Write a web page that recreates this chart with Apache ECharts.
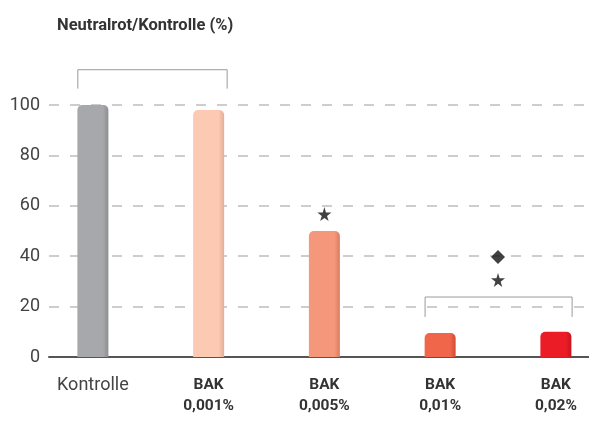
<!DOCTYPE html>
<html>
<head>
<meta charset="utf-8">
<script src="https://cdn.jsdelivr.net/npm/echarts@6/dist/echarts.min.js"></script>
<style>
  html, body { margin: 0; padding: 0; background: #fff; }
  #chart { width: 589px; height: 421px; }
</style>
</head>
<body>
<div id="chart"></div>
<script>
// Neutral red uptake relative to control, per BAK concentration
const categories = ['Kontrolle', 'BAK|0,001%', 'BAK|0,005%', 'BAK|0,01%', 'BAK|0,02%'];
const values = [100, 98, 50, 9.5, 10];
const barColors = ['#a7a8ab', '#fcc9b2', '#f4977a', '#f0664a', '#ec1c26'];
const barEdges = ['#8d8e91', '#e3ae98', '#d97c61', '#cf4d33', '#c4161d'];
const yTicks = [0, 20, 40, 60, 80, 100];

// Significance annotations (category index units, value units)
const bracketTop = [[-0.13, 106.5], [-0.13, 114], [1.16, 114], [1.16, 106.5]];
const bracketLow = [[2.87, 15.9], [2.87, 23.8], [4.14, 23.8], [4.14, 15.9]];
const starMarks = [[2, 56.7], [3.5, 30.6]];
const diamondMarks = [[3.5, 39.7]];

const FONT = "'Roboto', 'Liberation Sans', sans-serif";
const STAR = 'path://M50,0 L61,35 L98,35 L68,57 L79,91 L50,70 L21,91 L32,57 L2,35 L39,35 Z';

const chart = echarts.init(document.getElementById('chart'), null, { renderer: 'canvas' });

chart.setOption({
  animation: false,
  title: {
    text: 'Neutralrot/Kontrolle (%)',
    left: 52, top: 12,
    textStyle: { fontFamily: FONT, fontWeight: 'bold', fontSize: 16.5, color: '#333' }
  },
  grid: [
    { left: 49, right: 0, top: 105, bottom: 64 },
    { left: 35, right: 0, top: 105, bottom: 64 }
  ],
  xAxis: [
    {
      gridIndex: 0, type: 'category', data: [''],
      axisLine: { lineStyle: { color: '#555', width: 2 } },
      axisTick: { show: false }, axisLabel: { show: false }
    },
    {
      // bars and labels share this axis: category i sits at value i
      gridIndex: 1, type: 'value', min: -0.5, max: 4.286, interval: 0.5,
      axisLine: { show: false }, axisTick: { show: false }, splitLine: { show: false },
      axisLabel: {
        margin: 18,
        showMinLabel: false, showMaxLabel: false,
        formatter: function (v) {
          if (Math.abs(v - Math.round(v)) > 1e-6) return '';
          const name = categories[Math.round(v)];
          if (!name) return '';
          if (name.indexOf('|') < 0) return '{n|' + name + '}';
          const p = name.split('|');
          return '{b|' + p[0] + '}\n{b|' + p[1] + '}';
        },
        rich: {
          n: { fontFamily: FONT, fontSize: 18, color: '#444', lineHeight: 21 },
          b: { fontFamily: FONT, fontSize: 15.5, fontWeight: 'bold', color: '#333', lineHeight: 21 }
        }
      }
    }
  ],
  yAxis: [
    {
      gridIndex: 0, type: 'value', min: 0, max: 100, interval: 20,
      axisLine: { show: false }, axisTick: { show: false },
      axisLabel: { margin: 9, fontFamily: FONT, fontSize: 18, color: '#444',
        formatter: function (v) { return yTicks.indexOf(v) >= 0 ? String(v) : ''; } },
      splitLine: { lineStyle: { color: '#bdbdbd', width: 1.5, type: [10, 11] } }
    },
    {
      gridIndex: 1, type: 'value', min: 0, max: 100, show: false
    }
  ],
  series: [
    {
      type: 'bar', xAxisIndex: 1, yAxisIndex: 1, barWidth: 31,
      data: values.map(function (v, i) {
        return {
          value: [i, v],
          itemStyle: {
            borderRadius: [5, 5, 0, 0],
            color: new echarts.graphic.LinearGradient(0, 0, 1, 0, [
              { offset: 0, color: barColors[i] },
              { offset: 0.82, color: barColors[i] },
              { offset: 1, color: barEdges[i] }
            ])
          }
        };
      }),
      z: 3
    },
    {
      type: 'line', xAxisIndex: 1, yAxisIndex: 1, data: bracketTop, clip: false,
      symbol: 'none', lineStyle: { color: '#9a9a9a', width: 1 }, z: 4
    },
    {
      type: 'line', xAxisIndex: 1, yAxisIndex: 1, data: bracketLow, clip: false,
      symbol: 'none', lineStyle: { color: '#9a9a9a', width: 1 }, z: 4
    },
    {
      type: 'scatter', xAxisIndex: 1, yAxisIndex: 1, data: starMarks,
      symbol: STAR, symbolSize: 14, itemStyle: { color: '#111' }, z: 5
    },
    {
      type: 'scatter', xAxisIndex: 1, yAxisIndex: 1, data: diamondMarks,
      symbol: 'diamond', symbolSize: [14, 14], itemStyle: { color: '#111' }, z: 5
    }
  ]
});
</script>
</body>
</html>
